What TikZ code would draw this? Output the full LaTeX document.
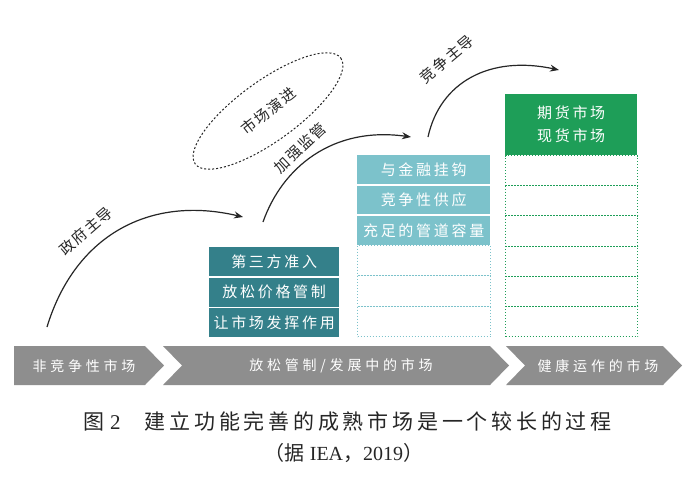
\documentclass[tikz,border=0pt]{standalone}
\usepackage{fontspec}
\setmainfont{Liberation Serif}
\newfontfamily\cjk{Noto Sans CJK SC}
\newfontfamily\cjkbox[LetterSpace=18]{Noto Sans CJK SC}
\newfontfamily\cjkband[LetterSpace=27]{Noto Sans CJK SC}
\newfontfamily\cjklab[LetterSpace=10]{Noto Sans CJK SC}
\newfontfamily\cjkcap[LetterSpace=18]{Noto Sans CJK SC}
\usetikzlibrary{arrows.meta,shapes.geometric}
\definecolor{darkteal}{RGB}{52,128,138}
\definecolor{lightteal}{RGB}{124,194,203}
\definecolor{mkgreen}{RGB}{30,158,88}
\definecolor{bandgrey}{RGB}{142,142,142}
\definecolor{labgrey}{RGB}{40,40,40}
\tikzset{
  stagebox/.style={anchor=north west,inner sep=0pt,text=white,
    font=\cjkbox\fontsize{15}{18}\selectfont},
  darkbox/.style={stagebox,fill=darkteal,minimum width=130pt,minimum height=29pt},
  lightbox/.style={stagebox,fill=lightteal,minimum width=133pt,minimum height=28.5pt},
  greenbox/.style={stagebox,fill=mkgreen,minimum width=132pt,minimum height=61pt,align=center},
  dotbox/.style={anchor=north west,inner sep=0pt,draw,line width=1pt,
    dash pattern=on 1pt off 2pt},
  midrow/.style={dotbox,draw=lightteal,minimum width=133pt,minimum height=30.5pt},
  rightrow/.style={dotbox,draw=mkgreen,minimum width=132pt,minimum height=30.17pt},
  bandtext/.style={text=white,font=\cjkband\fontsize{14}{16}\selectfont,inner sep=0pt},
  curvelabel/.style={text=labgrey,font=\cjklab\fontsize{15}{18}\selectfont,inner sep=0pt},
  flowarrow/.style={line width=1.2pt,draw=black!85,-{Stealth[length=9pt,width=7pt]}},
  evoline/.style={draw=black!85,line width=1pt,dash pattern=on 2pt off 2pt},
}
\begin{document}
\begin{tikzpicture}[x=1pt,y=-1pt]
\useasboundingbox (0,0) rectangle (700,480);
\fill[white] (0,0) rectangle (700,480);

% bottom band chevrons
\fill[bandgrey] (14,346) -- (145,346) -- (164,365.5) -- (145,385) -- (14,385) -- cycle;
\fill[bandgrey] (163,346) -- (490,346) -- (509,365.5) -- (490,385) -- (163,385) -- (182,365.5) -- cycle;
\fill[bandgrey] (506,346) -- (663,346) -- (682,365.5) -- (663,385) -- (506,385) -- (525,365.5) -- cycle;
\node[bandtext] (s1) at (84,366) {非竞争性市场};
\node[bandtext] (s2) at (341,366) {放松管制/发展中的市场};
\node[bandtext] (s3) at (598,366) {健康运作的市场};

% stage 1 boxes
\node[darkbox] (d1) at (209,247) {第三方准入};
\node[darkbox] (d2) at (209,277.5) {放松价格管制};
\node[darkbox] (d3) at (209,308) {让市场发挥作用};

% stage 2 boxes
\node[lightbox] (l1) at (357,155) {与金融挂钩};
\node[lightbox] (l2) at (357,185.5) {竞争性供应};
\node[lightbox] (l3) at (357,216) {充足的管道容量};
\node[midrow] (m1) at (357,244.5) {};
\node[midrow] (m2) at (357,275) {};
\node[midrow] (m3) at (357,305.5) {};

% stage 3 boxes
\node[greenbox] (g1) at (505,94) {期货市场\\[5pt]现货市场};
\node[rightrow] (r1) at (505,155) {};
\node[rightrow] (r2) at (505,185.17) {};
\node[rightrow] (r3) at (505,215.33) {};
\node[rightrow] (r4) at (505,245.5) {};
\node[rightrow] (r5) at (505,275.67) {};
\node[rightrow] (r6) at (505,305.83) {};

% curved arrows
\coordinate (a1s) at (47,327);
\coordinate (a1e) at (243,217);
\draw[flowarrow] (a1s) .. controls (75,235) and (150,195) .. (a1e);
\coordinate (a2s) at (263,222);
\coordinate (a2e) at (411,137);
\draw[flowarrow] (a2s) .. controls (282,168) and (332,126) .. (a2e);
\coordinate (a3s) at (428,137);
\coordinate (a3e) at (559,70);
\draw[flowarrow] (a3s) .. controls (440,82) and (490,55) .. (a3e);

\node[curvelabel,rotate=41] (t1) at (86,231) {政府主导};
\node[curvelabel,rotate=43] (t2) at (300,148) {加强监管};
\node[curvelabel,rotate=40] (t3) at (447,59) {竞争主导};

% dashed ellipse
\coordinate (ev) at (268,111);
\draw[evoline,rotate around={36:(ev)}] (ev) ellipse [x radius=90, y radius=30];
\node[curvelabel,rotate=38] (t4) at (ev) {市场演进};

% caption
\node[anchor=west,inner sep=0pt,text=black!85,font=\fontsize{21}{24}\selectfont]
  (cap1) at (83,421) {{\cjk 图}\hspace{6pt}2\hspace{24pt}{\cjkcap 建立功能完善的成熟市场是一个较长的过程}};
\node[inner sep=0pt,text=black!85,font=\fontsize{20}{24}\selectfont]
  (cap2) at (344,453) {{\cjk （据} IEA{\cjk ，}2019{\cjk ）}};
\end{tikzpicture}
\end{document}
